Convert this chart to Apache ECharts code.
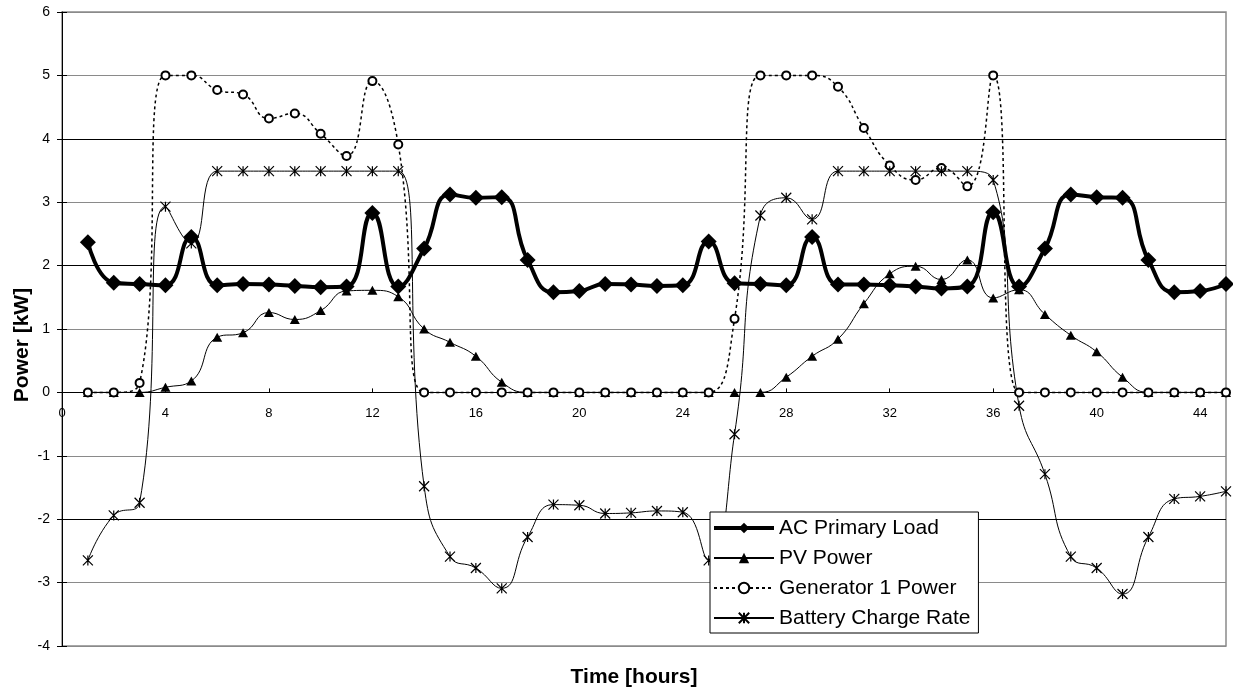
<!DOCTYPE html>
<html>
<head>
<meta charset="utf-8">
<script src="https://cdn.jsdelivr.net/npm/echarts@6/dist/echarts.min.js"></script>
<style>
  html, body { margin: 0; padding: 0; background: #fff; }
  #chart { width: 1233px; height: 692px; }
</style>
</head>
<body>
<div id="chart"></div>
<script>
// Hourly system power over two days
const hours = Array.from({ length: 45 }, (_, i) => i + 1);

const acPrimaryLoad = [2.37, 1.73, 1.71, 1.69, 2.45, 1.69, 1.71, 1.70, 1.68, 1.66, 1.67, 2.83, 1.67,
  2.27, 3.12, 3.07, 3.08, 2.09, 1.58, 1.60, 1.71, 1.70, 1.68, 1.69,
  2.38, 1.72, 1.71, 1.69, 2.45, 1.70, 1.70, 1.69, 1.67, 1.64, 1.67, 2.84, 1.67,
  2.27, 3.12, 3.08, 3.07, 2.09, 1.58, 1.60, 1.71];

const pvPower = [0, 0, 0, 0.08, 0.18, 0.87, 0.94, 1.26, 1.15, 1.29, 1.60, 1.61, 1.51,
  1.00, 0.79, 0.57, 0.16, 0, 0, 0, 0, 0, 0, 0, 0, 0, 0,
  0.24, 0.57, 0.84, 1.40, 1.87, 1.99, 1.78, 2.09, 1.49, 1.62, 1.23, 0.90, 0.64, 0.24,
  0, 0, 0, 0];

const generatorPower = [0, 0, 0.15, 5.0, 5.0, 4.77, 4.70, 4.32, 4.40, 4.08, 3.73, 4.91, 3.91,
  0, 0, 0, 0, 0, 0, 0, 0, 0, 0, 0, 0,
  1.16, 5.0, 5.0, 5.0, 4.82, 4.17, 3.58, 3.35, 3.54, 3.25, 5.0,
  0, 0, 0, 0, 0, 0, 0, 0, 0];

const batteryChargeRate = [-2.65, -1.94, -1.74, 2.93, 2.35, 3.49, 3.49, 3.49, 3.49, 3.49, 3.49, 3.49, 3.49,
  -1.48, -2.59, -2.77, -3.09, -2.28, -1.77, -1.78, -1.91, -1.90, -1.87, -1.89,
  -2.65, -0.66, 2.79, 3.07, 2.73, 3.49, 3.49, 3.49, 3.49, 3.49, 3.49, 3.35,
  -0.21, -1.29, -2.59, -2.77, -3.18, -2.28, -1.68, -1.64, -1.56];

const seriesNames = ['AC Primary Load', 'PV Power', 'Generator 1 Power', 'Battery Charge Rate'];
const xTitle = 'Time [hours]';
const yTitle = 'Power [kW]';

const FONT = '"Liberation Sans", Arial, sans-serif';
const pairs = vals => hours.map((h, i) => [h, vals[i]]);

// asterisk marker: an X crossed by a vertical stroke
const asterisk = 'path://M0 0L10 10M10 0L0 10M5 0L5 10';

// plot box and value range; the time axis sits on the zero line
const GRID = { left: 62, right: 7, top: 12, bottom: 46 };
const Y_MIN = -4, Y_MAX = 6;
const plotHeight = 692 - GRID.top - GRID.bottom;
const zeroOffset = -plotHeight * (0 - Y_MIN) / (Y_MAX - Y_MIN);

const chart = echarts.init(document.getElementById('chart'), null, { renderer: 'canvas' });

chart.setOption({
  animation: false,
  backgroundColor: '#fff',
  textStyle: { fontFamily: FONT, color: '#000' },
  grid: Object.assign({
    show: true, borderColor: '#8a8a8a', borderWidth: 1.5, backgroundColor: 'transparent'
  }, GRID),
  xAxis: {
    type: 'value',
    position: 'bottom',
    offset: zeroOffset,
    min: 0, max: 45, interval: 4,
    axisLine: { onZero: false, lineStyle: { color: '#000', width: 1 } },
    axisTick: { inside: true, length: 4, lineStyle: { color: '#000' } },
    axisLabel: { margin: 15, fontSize: 13, color: '#000', fontFamily: FONT, showMaxLabel: false },
    splitLine: { show: false }
  },
  yAxis: [{
    type: 'value',
    min: Y_MIN, max: Y_MAX, interval: 1,
    axisLine: { show: true, onZero: false, lineStyle: { color: '#000', width: 1 } },
    axisTick: { show: true, length: 5, lineStyle: { color: '#000' } },
    axisLabel: { margin: 12, fontSize: 14, color: '#000', fontFamily: FONT },
    splitLine: {
      show: true,
      lineStyle: {
        width: 1,
        color: ['#8a8a8a', '#8a8a8a', '#000', '#8a8a8a', '#000', '#8a8a8a', '#000', '#8a8a8a', '#000', '#8a8a8a', '#8a8a8a']
      }
    }
  }, {
    // inner half of the crossing y ticks
    type: 'value',
    position: 'left',
    min: Y_MIN, max: Y_MAX, interval: 1,
    axisLine: { show: false, onZero: false },
    axisTick: { show: true, inside: true, length: 5, lineStyle: { color: '#000' } },
    axisLabel: { show: false },
    splitLine: { show: false }
  }],
  legend: {
    orient: 'vertical',
    left: 710, top: 512,
    padding: [4, 8, 3, 2],
    itemWidth: 60, itemHeight: 13, itemGap: 6,
    backgroundColor: '#fff',
    borderColor: '#000', borderWidth: 1, borderRadius: 0,
    textStyle: { fontSize: 21, lineHeight: 24, color: '#000', fontFamily: FONT },
    data: [
      { name: seriesNames[0], lineStyle: { width: 4 } },
      { name: seriesNames[1] },
      { name: seriesNames[2] },
      { name: seriesNames[3] }
    ]
  },
  graphic: [{
    type: 'text',
    x: 634, y: 677,
    style: { text: xTitle, font: 'bold 21px ' + FONT, fill: '#000', textAlign: 'center', textVerticalAlign: 'middle' }
  }, {
    type: 'text',
    x: 22, y: 345, rotation: Math.PI / 2,
    style: { text: yTitle, font: 'bold 21px ' + FONT, fill: '#000', textAlign: 'center', textVerticalAlign: 'middle' }
  }],
  series: [{
    name: seriesNames[0],
    type: 'line',
    yAxisIndex: 0,
    data: pairs(acPrimaryLoad),
    smooth: 0.5,
    symbol: 'diamond', symbolSize: 16,
    lineStyle: { color: '#000', width: 4 },
    itemStyle: { color: '#000', borderColor: '#000', borderWidth: 0 }
  }, {
    name: seriesNames[1],
    type: 'line',
    yAxisIndex: 0,
    data: pairs(pvPower),
    smooth: 0.5,
    symbol: 'triangle', symbolSize: [10, 9],
    lineStyle: { color: '#000', width: 1 },
    itemStyle: { color: '#000', borderColor: '#000', borderWidth: 0 }
  }, {
    name: seriesNames[2],
    type: 'line',
    yAxisIndex: 0,
    data: pairs(generatorPower),
    smooth: 0.5,
    symbol: 'emptyCircle', symbolSize: 8,
    lineStyle: { color: '#000', width: 1.5, type: [3, 3] },
    itemStyle: { color: '#000', borderColor: '#000', borderWidth: 1 }
  }, {
    name: seriesNames[3],
    type: 'line',
    yAxisIndex: 0,
    data: pairs(batteryChargeRate),
    smooth: 0.5,
    symbol: asterisk, symbolSize: 10,
    lineStyle: { color: '#000', width: 1 },
    itemStyle: { color: '#000', borderColor: '#000', borderWidth: 1.2 }
  }]
});
</script>
</body>
</html>
